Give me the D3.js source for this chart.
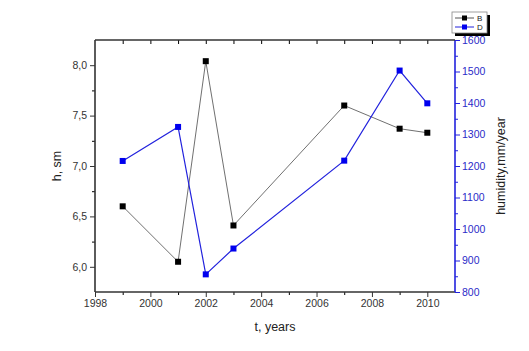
<!DOCTYPE html>
<html>
<head>
<meta charset="utf-8">
<script src="https://cdn.jsdelivr.net/npm/d3@7"></script>
<style>
  body { margin: 0; background: #fff; }
  svg text { font-family: "Liberation Sans", Arial, sans-serif; }
</style>
</head>
<body>
<div id="chart"></div>
<script>
// data
const years = [1999, 2001, 2002, 2003, 2007, 2009, 2010];
const hValues = [6.60, 6.05, 8.04, 6.41, 7.60, 7.37, 7.33];          // B, h, sm
const humidity = [1216, 1324, 856, 938, 1217, 1503, 1399];           // D, mm/year
const xTicks = [1998, 2000, 2002, 2004, 2006, 2008, 2010];
const leftTicks = [6.0, 6.5, 7.0, 7.5, 8.0];
const rightTicks = [800, 900, 1000, 1100, 1200, 1300, 1400, 1500, 1600];
const seriesNames = ["B", "D"];

const width = 529, height = 351;
const margin = { top: 40, right: 74, bottom: 59, left: 95 };
const axisCol = "#333", blue = "#2222dd", blueText = "#2a2ac8";

const svg = d3.select("#chart").append("svg")
  .attr("width", width).attr("height", height);

const x = d3.scaleLinear().domain([1998, 2011]).range([margin.left, width - margin.right]);
const yL = d3.scaleLinear().domain([5.75, 8.25]).range([height - margin.bottom, margin.top]);
const yR = d3.scaleLinear().domain([800, 1600]).range([height - margin.bottom, margin.top]);

const comma = d => d3.format(".1f")(d).replace(".", ",");

// minor ticks first
svg.append("g")
  .attr("transform", `translate(0,${height - margin.bottom})`)
  .call(d3.axisBottom(x).tickValues(d3.range(1999, 2011, 2)).tickSize(3).tickFormat(""))
  .call(g => g.select(".domain").remove());
svg.append("g")
  .attr("transform", `translate(0,${margin.top})`)
  .call(d3.axisBottom(x).tickValues(d3.range(1999, 2011)).tickSize(4).tickFormat(""))
  .call(g => g.select(".domain").remove());
svg.append("g")
  .attr("transform", `translate(${margin.left},0)`)
  .call(d3.axisLeft(yL).tickValues([6.25, 6.75, 7.25, 7.75]).tickSize(3).tickFormat(""))
  .call(g => g.select(".domain").remove());
svg.append("g")
  .attr("transform", `translate(${width - margin.right},0)`)
  .call(d3.axisRight(yR).tickValues(d3.range(850, 1600, 100)).tickSize(3).tickFormat(""))
  .call(g => g.select(".domain").remove())
  .call(g => g.selectAll("line").attr("stroke", blue));

// main axes
const xAxis = svg.append("g")
  .attr("transform", `translate(0,${height - margin.bottom})`)
  .call(d3.axisBottom(x).tickValues(xTicks).tickSize(5).tickPadding(3).tickFormat(d3.format("d")));
const yAxisL = svg.append("g")
  .attr("transform", `translate(${margin.left},0)`)
  .call(d3.axisLeft(yL).tickValues(leftTicks).tickSize(5).tickPadding(3).tickFormat(comma));
const yAxisR = svg.append("g")
  .attr("transform", `translate(${width - margin.right},0)`)
  .call(d3.axisRight(yR).tickValues(rightTicks).tickSize(5).tickPadding(2).tickFormat(d3.format("d")));

[xAxis, yAxisL].forEach(g => {
  g.selectAll("text").attr("fill", axisCol).style("font-size", "10.5px");
  g.select(".domain").attr("stroke", axisCol).attr("stroke-width", 1.6);
  g.selectAll("line").attr("stroke", axisCol);
});
yAxisR.selectAll("text").attr("fill", blueText).style("font-size", "10.5px");
yAxisR.select(".domain").attr("stroke", blue).attr("stroke-width", 1.6);
yAxisR.selectAll("line").attr("stroke", blue);
svg.selectAll(".domain").each(function () {
  // drop the outer end caps
  const d = d3.select(this).attr("d");
});
xAxis.select(".domain").attr("d", `M${margin.left},0H${width - margin.right}`);
yAxisL.select(".domain").attr("d", `M0,${margin.top}V${height - margin.bottom}`);
yAxisR.select(".domain").attr("d", `M0,${margin.top}V${height - margin.bottom}`);

// top frame line
svg.append("line")
  .attr("x1", margin.left).attr("x2", width - margin.right)
  .attr("y1", margin.top).attr("y2", margin.top)
  .attr("stroke", axisCol).attr("stroke-width", 1.6);

// series
const lineL = d3.line().x((d, i) => x(years[i])).y(d => yL(d));
const lineR = d3.line().x((d, i) => x(years[i])).y(d => yR(d));

svg.append("path").datum(hValues).attr("d", lineL)
  .attr("fill", "none").attr("stroke", "#707070").attr("stroke-width", 1);
svg.append("path").datum(humidity).attr("d", lineR)
  .attr("fill", "none").attr("stroke", blue).attr("stroke-width", 1.2);

svg.selectAll("rect.b").data(hValues).join("rect").attr("class", "b")
  .attr("x", (d, i) => x(years[i]) - 3).attr("y", d => yL(d) - 3)
  .attr("width", 6).attr("height", 6).attr("fill", "#000");
svg.selectAll("rect.d").data(humidity).join("rect").attr("class", "d")
  .attr("x", (d, i) => x(years[i]) - 3).attr("y", d => yR(d) - 3)
  .attr("width", 6).attr("height", 6).attr("fill", "#0000ee");

// axis titles
svg.append("text")
  .attr("x", (margin.left + width - margin.right) / 2).attr("y", 331)
  .attr("text-anchor", "middle").style("font-size", "12.5px").attr("fill", "#222")
  .text("t, years");
svg.append("text")
  .attr("transform", `translate(61,${(margin.top + height - margin.bottom) / 2}) rotate(-90)`)
  .attr("text-anchor", "middle").style("font-size", "12.5px").attr("fill", "#222")
  .text("h, sm");
svg.append("text")
  .attr("transform", `translate(505,${(margin.top + height - margin.bottom) / 2}) rotate(-90)`)
  .attr("text-anchor", "middle").style("font-size", "12.5px").attr("fill", "#222")
  .text("humidity,mm/year");

// legend
const lg = svg.append("g").attr("transform", "translate(452,12)");
lg.append("rect").attr("x", 3).attr("y", 3).attr("width", 35).attr("height", 21).attr("fill", "#000");
lg.append("rect").attr("width", 35).attr("height", 21).attr("fill", "#fff")
  .attr("stroke", "#888").attr("stroke-width", 0.8);
const legColors = [["#555", "#000"], [blue, "#0000ee"]];
seriesNames.forEach((name, i) => {
  const yy = 6 + i * 9;
  lg.append("line").attr("x1", 3).attr("x2", 22).attr("y1", yy).attr("y2", yy)
    .attr("stroke", legColors[i][0]).attr("stroke-width", 1);
  lg.append("rect").attr("x", 10).attr("y", yy - 2.5).attr("width", 5).attr("height", 5)
    .attr("fill", legColors[i][1]);
  lg.append("text").attr("x", 25).attr("y", yy + 3).style("font-size", "8px")
    .attr("fill", "#222").text(name);
});
</script>
</body>
</html>
